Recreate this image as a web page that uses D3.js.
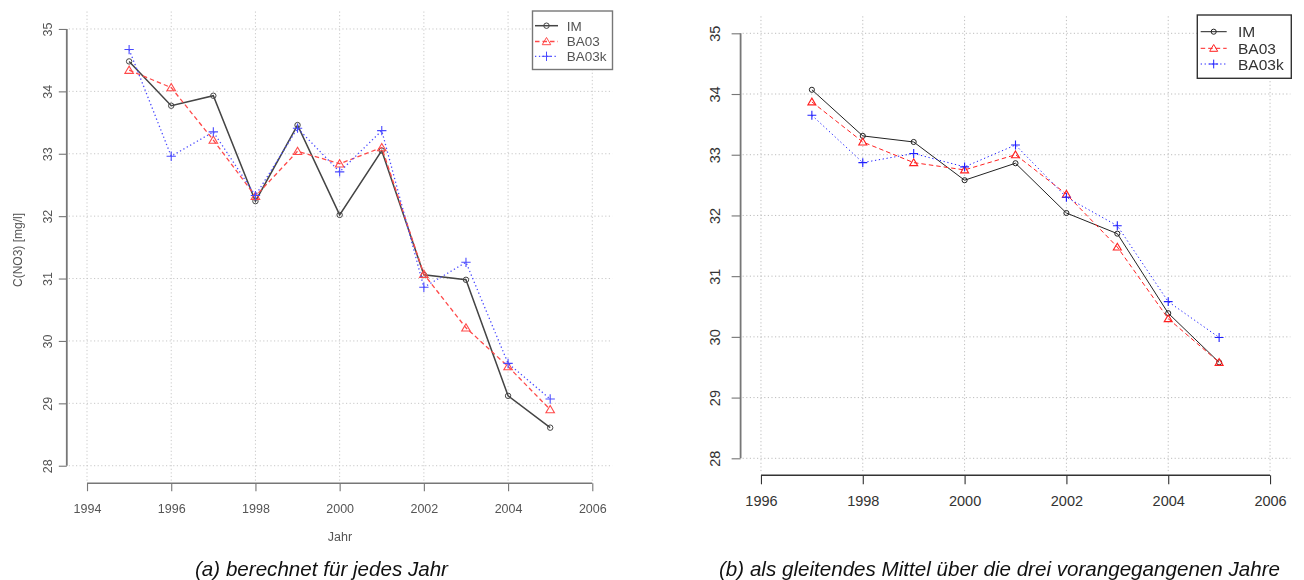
<!DOCTYPE html>
<html>
<head>
<meta charset="utf-8">
<script src="https://cdn.jsdelivr.net/npm/d3@7"></script>
<style>
  html, body { margin: 0; padding: 0; background: #fff; }
  svg { display: block; font-family: "Liberation Sans", Arial, sans-serif; }
</style>
</head>
<body>
<svg id="chart" width="1304" height="580"></svg>
<script>
// Nitrate concentration C(NO3) [mg/l], three estimates per year
const yearsA = [1995, 1996, 1997, 1998, 1999, 2000, 2001, 2002, 2003, 2004, 2005];
const imA    = [34.48, 33.77, 33.93, 32.24, 33.46, 32.02, 33.05, 31.06, 30.98, 29.12, 28.61];
const ba03A  = [34.34, 34.06, 33.22, 32.32, 33.04, 32.84, 33.10, 31.07, 30.21, 29.59, 28.90];
const ba03kA = [34.67, 32.96, 33.35, 32.33, 33.41, 32.71, 33.37, 30.86, 31.26, 29.64, 29.07];

// Moving average over the three preceding years
const yearsB = [1997, 1998, 1999, 2000, 2001, 2002, 2003, 2004, 2005];
const imB    = [34.07, 33.31, 33.21, 32.58, 32.86, 32.04, 31.70, 30.39, 29.58];
const ba03B  = [33.87, 33.21, 32.87, 32.75, 33.00, 32.35, 31.48, 30.30, 29.58];
const ba03kB = [33.65, 32.87, 33.02, 32.80, 33.16, 32.30, 31.83, 30.58, 29.99];

const xTicksA = [1994, 1996, 1998, 2000, 2002, 2004, 2006];
const xTicksB = [1996, 1998, 2000, 2002, 2004, 2006];
const yTicks  = [28, 29, 30, 31, 32, 33, 34, 35];
const seriesNames = ["IM", "BA03", "BA03k"];

const svg = d3.select("#chart");
const defs = svg.append("defs");
defs.append("filter").attr("id", "soft")
  .attr("x", "-5%").attr("y", "-5%").attr("width", "110%").attr("height", "110%")
  .append("feGaussianBlur").attr("stdDeviation", 0.55);

function markerPath(kind, x, y, s) {
  if (kind === "circle") {
    const r = s * 0.32;
    return `M${x - r},${y}a${r},${r} 0 1,0 ${2 * r},0a${r},${r} 0 1,0 ${-2 * r},0`;
  }
  if (kind === "triangle") {
    const h = s * 0.5;
    return `M${x},${y - h * 0.95}L${x + h},${y + h * 0.75}L${x - h},${y + h * 0.75}Z`;
  }
  const h = s * 0.55;
  return `M${x - h},${y}H${x + h}M${x},${y - h}V${y + h}`;
}

function drawPanel(cfg) {
  const g = svg.append("g");
  if (cfg.soft) g.attr("filter", "url(#soft)");

  const x = d3.scaleLinear().domain(cfg.xDomain).range(cfg.xRange);
  const y = d3.scaleLinear().domain([27.72, 35.28]).range(cfg.yRange);

  // dotted grid
  const grid = g.append("g").attr("stroke", cfg.gridColor).attr("stroke-width", 1)
    .attr("stroke-dasharray", "1.2,2.4").attr("fill", "none");
  cfg.xTicks.forEach(t => grid.append("line")
    .attr("x1", x(t)).attr("x2", x(t)).attr("y1", cfg.yRange[1]).attr("y2", cfg.yRange[0] - 2));
  yTicks.forEach(t => grid.append("line")
    .attr("x1", cfg.xRange[0] + 2).attr("x2", cfg.xRange[1]).attr("y1", y(t)).attr("y2", y(t)));

  // axes
  const xAxis = g.append("g").attr("transform", `translate(0,${cfg.yRange[0]})`)
    .call(d3.axisBottom(x).tickValues(cfg.xTicks).tickFormat(d3.format("d"))
      .tickSize(cfg.tick).tickSizeOuter(0));
  xAxis.attr("font-size", null);
  xAxis.select(".domain").attr("d", `M${x(cfg.xTicks[0])},0H${x(cfg.xTicks[cfg.xTicks.length - 1])}`)
    .attr("stroke", cfg.xAxisColor).attr("stroke-width", cfg.axisWidth);
  xAxis.selectAll(".tick line").attr("stroke", cfg.xAxisColor).attr("stroke-width", cfg.axisWidth * 0.8);
  xAxis.selectAll(".tick text").attr("y", cfg.xLabelOffset).attr("dy", "0.35em")
    .attr("fill", cfg.textColor).attr("font-size", cfg.tickFont);

  const yAxis = g.append("g").attr("transform", `translate(${cfg.xRange[0]},0)`)
    .call(d3.axisLeft(y).tickValues(yTicks).tickFormat(d3.format("d"))
      .tickSize(cfg.tick).tickSizeOuter(0));
  yAxis.attr("font-size", null);
  yAxis.select(".domain").attr("d", `M0,${y(35)}V${y(28)}`)
    .attr("stroke", cfg.yAxisColor).attr("stroke-width", cfg.axisWidth + 0.4);
  yAxis.selectAll(".tick line").attr("stroke", cfg.yAxisColor).attr("stroke-width", cfg.axisWidth * 0.8);
  yAxis.selectAll(".tick text").attr("x", null).attr("dy", null)
    .attr("transform", `translate(${-cfg.yLabelOffset},0) rotate(-90)`)
    .attr("text-anchor", "middle").attr("dominant-baseline", "central")
    .attr("fill", cfg.textColor).attr("font-size", cfg.tickFont);

  // series
  const series = [
    { vals: cfg.im,    color: cfg.colors[0], dash: null,       kind: "circle",   width: cfg.lineWidth[0] },
    { vals: cfg.ba03,  color: cfg.colors[1], dash: "4.5,3",    kind: "triangle", width: cfg.lineWidth[1] },
    { vals: cfg.ba03k, color: cfg.colors[2], dash: "1.3,2.6",  kind: "plus",     width: cfg.lineWidth[2] }
  ];
  const line = d3.line().x(d => x(d[0])).y(d => y(d[1]));
  series.forEach(s => {
    const pts = cfg.years.map((yr, i) => [yr, s.vals[i]]);
    g.append("path").datum(pts).attr("d", line).attr("fill", "none")
      .attr("stroke", s.color).attr("stroke-width", s.width)
      .attr("stroke-dasharray", s.dash);
    g.append("g").selectAll("path").data(pts).join("path")
      .attr("d", d => markerPath(s.kind, x(d[0]), y(d[1]), cfg.markerSize))
      .attr("fill", "none").attr("stroke", s.color).attr("stroke-width", s.kind === "circle" ? 1 : 1.1);
  });

  // legend
  const L = cfg.legend;
  g.append("rect").attr("x", L.x).attr("y", L.y).attr("width", L.w).attr("height", L.h)
    .attr("fill", "#fff").attr("stroke", cfg.legendBorder).attr("stroke-width", 1.4);
  series.forEach((s, i) => {
    const ly = L.rowY[i];
    g.append("line").attr("x1", L.segX[0]).attr("x2", L.segX[1]).attr("y1", ly).attr("y2", ly)
      .attr("stroke", s.color).attr("stroke-width", s.width).attr("stroke-dasharray", s.dash);
    g.append("path").attr("d", markerPath(s.kind, (L.segX[0] + L.segX[1]) / 2, ly, cfg.markerSize))
      .attr("fill", "none").attr("stroke", s.color).attr("stroke-width", 1);
    g.append("text").attr("x", L.textX).attr("y", ly).attr("dy", "0.36em")
      .attr("font-size", L.font).attr("fill", cfg.textColor).text(seriesNames[i]);
  });

  if (cfg.xTitle) {
    g.append("text").attr("x", cfg.xTitle.x).attr("y", cfg.xTitle.y)
      .attr("text-anchor", "middle").attr("font-size", cfg.xTitle.font)
      .attr("fill", cfg.textColor).text(cfg.xTitle.text);
  }
  if (cfg.yTitle) {
    g.append("text")
      .attr("transform", `translate(${cfg.yTitle.x},${cfg.yTitle.y}) rotate(-90)`)
      .attr("text-anchor", "middle").attr("dominant-baseline", "central")
      .attr("font-size", cfg.yTitle.font).attr("fill", cfg.textColor).text(cfg.yTitle.text);
  }
}

drawPanel({
  soft: true,
  years: yearsA, im: imA, ba03: ba03A, ba03k: ba03kA,
  xDomain: [1993.52, 2006.48], xRange: [66.8, 612.5],
  yRange: [483.2, 11.5],
  xTicks: xTicksA,
  tick: 8, axisWidth: 1.4, xLabelOffset: 25, yLabelOffset: 19,
  tickFont: 12.5, textColor: "#555",
  gridColor: "#c8c8c8", xAxisColor: "#777", yAxisColor: "#777",
  colors: ["#444", "#ff4a4a", "#4a4aff"], lineWidth: [1.5, 1.3, 1.3],
  markerSize: 8.5,
  legend: { x: 532.5, y: 11, w: 80, h: 58.5, rowY: [25.7, 41.5, 56.3],
            segX: [535, 558], textX: 566.7, font: 13.5 },
  legendBorder: "#777",
  xTitle: { x: 340, y: 541, text: "Jahr", font: 12.5 },
  yTitle: { x: 18, y: 250, text: "C(NO3) [mg/l]", font: 12 }
});

drawPanel({
  soft: false,
  years: yearsB, im: imB, ba03: ba03B, ba03k: ba03kB,
  xDomain: [1995.6, 2006.4], xRange: [740.6, 1290.4],
  yRange: [475.3, 16.3],
  xTicks: xTicksB,
  tick: 9, axisWidth: 1.4, xLabelOffset: 25.5, yLabelOffset: 25.6,
  tickFont: 14.5, textColor: "#333",
  gridColor: "#bdbdbd", xAxisColor: "#333", yAxisColor: "#777",
  colors: ["#222", "#ff2020", "#2020ff"], lineWidth: [1, 1, 1],
  markerSize: 8,
  legend: { x: 1197.3, y: 15, w: 94, h: 63.3, rowY: [31.7, 48.3, 64],
            segX: [1200.7, 1226.7], textX: 1238, font: 15.5 },
  legendBorder: "#333"
});

// sub-figure captions
svg.append("text").attr("x", 321.5).attr("y", 576).attr("text-anchor", "middle")
  .attr("font-size", 20.6).attr("font-style", "italic").attr("fill", "#111")
  .text("(a) berechnet für jedes Jahr");
svg.append("text").attr("x", 999.5).attr("y", 576).attr("text-anchor", "middle")
  .attr("font-size", 20.6).attr("font-style", "italic").attr("fill", "#111")
  .text("(b) als gleitendes Mittel über die drei vorangegangenen Jahre");
</script>
</body>
</html>
